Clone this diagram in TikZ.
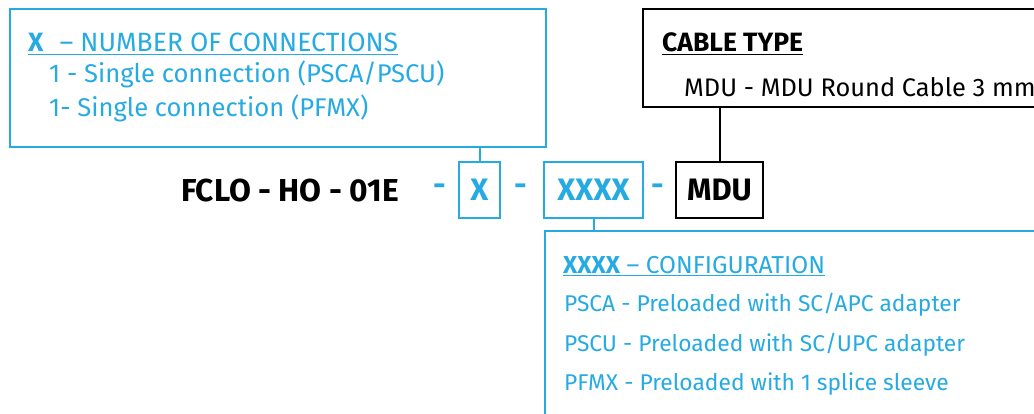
\documentclass[tikz,border=0pt]{standalone}
\usepackage{fontspec}
\setmainfont{Fira Sans}
\usetikzlibrary{calc}
\definecolor{codeblue}{RGB}{38,170,226}

\tikzset{
  bluebox/.style={draw=codeblue, line width=2pt, inner sep=0pt},
  blackbox/.style={draw=black, line width=2pt, inner sep=0pt},
  blueline/.style={draw=codeblue, line width=2pt},
  blackline/.style={draw=black, line width=2pt},
  txt/.style={anchor=base west, inner sep=0pt, font=\fontsize{#1}{30}\selectfont},
  txt/.default=25,
  codetxt/.style={inner sep=0pt, font=\fontsize{31}{36}\selectfont\bfseries},
}

\begin{document}
\begin{tikzpicture}[x=1pt, y=-1pt]
\useasboundingbox (0,0) rectangle (1034,414);
\clip (0,0) rectangle (1034,414);

% description boxes
\node[bluebox, anchor=north west, minimum width=536, minimum height=138] (numbox) at (9,8) {};
\node[blackbox, anchor=north west, minimum width=430, minimum height=98] (cablebox) at (642,8) {};
\node[bluebox, anchor=north west, minimum width=520, minimum height=200] (confbox) at (544,230) {};

% the code
\node[inner sep=0pt, font=\fontsize{31.7}{36}\selectfont\bfseries] (base) at (290,191) {FCLO - HO - 01E};
\node[codetxt, text=codeblue] (d1) at (439.5,190) {-};
\node[bluebox, minimum width=41, minimum height=56] (xbox) at (479.5,190) {};
\node[codetxt, text=codeblue] at (xbox) {X};
\node[codetxt, text=codeblue] (d2) at (520.5,190) {-};
\node[bluebox, minimum width=99, minimum height=56] (confcode) at (593.5,190) {};
\node[codetxt, text=codeblue] at (confcode) {XXXX};
\node[codetxt, text=codeblue] (d3) at (657.5,190) {-};
\node[blackbox, minimum width=87, minimum height=56] (cablecode) at (719.5,190) {};
\node[codetxt] at (cablecode) {MDU};

% connectors
\draw[blueline] (numbox.south -| xbox.north) -- (xbox.north);
\draw[blueline] (confcode.south) -- (confcode.south |- confbox.north);
\draw[blackline] (cablecode.north) -- (cablecode.north |- cablebox.south);

% texts, number of connections
\node[txt=26.5, text=codeblue] (numhead) at (28,52) {\textbf{X}\hspace*{16pt}– NUMBER OF CONNECTIONS};
\draw[codeblue, line width=1.5pt] ([yshift=-2.5pt]numhead.base west) -- ([yshift=-2.5pt]numhead.base east);
\node[txt=25.6, text=codeblue] (num1) at (49,83) {1 - Single connection (PSCA/PSCU)};
\node[txt=25.6, text=codeblue] (num2) at (49,117) {1- Single connection (PFMX)};

% texts, cable type
\node[txt=26.5] (cablehead) at (662,52) {\textbf{CABLE TYPE}};
\draw[black, line width=1.5pt] ([yshift=-2.5pt]cablehead.base west) -- ([yshift=-2.5pt]cablehead.base east);
\node[txt=25.4] (cable1) at (684,97) {MDU - MDU Round Cable 3 mm};

% texts, configuration
\node[txt=24.5, text=codeblue] (confhead) at (563,273) {\textbf{XXXX} – CONFIGURATION};
\draw[codeblue, line width=1.5pt] ([yshift=-2.5pt]confhead.base west) -- ([yshift=-2.5pt]confhead.base east);
\node[txt=22.8, text=codeblue] (conf1) at (564,312) {PSCA - Preloaded with SC/APC adapter};
\node[txt=22.8, text=codeblue] (conf2) at (564,351) {PSCU - Preloaded with SC/UPC adapter};
\node[txt=22.8, text=codeblue] (conf3) at (564,390) {PFMX - Preloaded with 1 splice sleeve};
\end{tikzpicture}
\end{document}
